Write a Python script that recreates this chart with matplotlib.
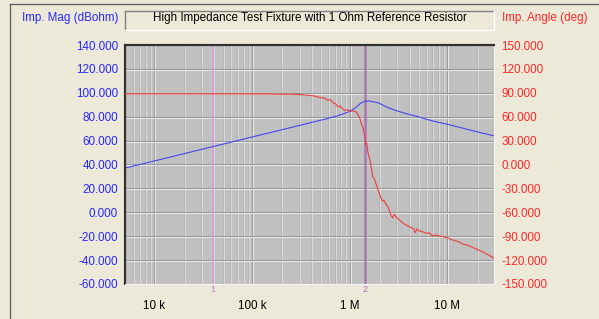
import matplotlib
matplotlib.use("Agg")
import matplotlib.pyplot as plt
from matplotlib.transforms import ScaledTranslation
from matplotlib.lines import Line2D
import numpy as np

plt.rcParams['font.family'] = ['Liberation Sans', 'DejaVu Sans']

# ---------------- data ----------------
title = "High Impedance Test Fixture with 1 Ohm Reference Resistor"
left_label = "Imp. Mag (dBohm)"
right_label = "Imp. Angle (deg)"

mag_freq = [5e3, 1e4, 2e4, 5e4, 1e5, 2e5, 5e5, 7e5, 8.5e5, 1.0e6, 1.15e6, 1.3e6,
            1.45e6, 1.6e6, 1.7e6, 1.75e6, 2.0e6, 2.4e6, 3e6, 4e6, 5e6, 7e6, 1e7,
            1.5e7, 2e7, 3e7]
mag_db = [37.0, 43.0, 49.0, 57.0, 63.0, 69.0, 77.0, 80.0, 82.2, 84.5, 87.5, 91.5,
          93.0, 93.2, 92.4, 92.6, 91.3, 88.0, 85.0, 82.0, 80.0, 76.5, 73.7,
          70.0, 67.4, 64.0]

ang_freq = [5e3, 2e4, 5e4, 1e5, 1.5e5, 2e5, 2.5e5, 3e5, 3.5e5, 4e5, 4.5e5, 5e5,
            5.5e5, 6e5, 6.3e5, 6.7e5, 7.2e5, 7.6e5, 8e5, 8.5e5, 9e5, 9.5e5,
            1.0e6, 1.1e6, 1.18e6, 1.22e6, 1.26e6, 1.31e6, 1.36e6, 1.4e6, 1.43e6,
            1.46e6, 1.49e6, 1.53e6, 1.57e6, 1.62e6, 1.67e6, 1.72e6, 1.8e6, 1.9e6,
            2.0e6, 2.07e6, 2.18e6, 2.25e6, 2.35e6, 2.45e6, 2.55e6, 2.65e6, 2.75e6,
            2.85e6, 2.95e6, 3.1e6, 3.3e6, 3.5e6, 3.8e6, 4.2e6, 4.5e6, 4.7e6,
            4.85e6, 5.2e6, 5.6e6, 6.1e6, 6.5e6, 7.0e6, 7.5e6, 8.5e6, 1.0e7,
            1.15e7, 1.3e7, 1.45e7, 1.6e7, 1.8e7, 2.1e7, 2.5e7, 3.0e7]
ang_deg = [88.6, 88.6, 88.6, 88.5, 88.5, 88.2, 88.4, 87.9, 87.3, 86.5, 85.6, 84.0,
           83.2, 80.5, 81.5, 77.8, 76.0, 72.0, 73.5, 69.3, 68.0, 69.0,
           67.0, 67.2, 65.5, 62.0, 59.0, 52.0, 46.6, 40.0, 33.0,
           25.0, 27.0, 16.0, 10.5, 4.0, -6.0, -14.7, -19.0, -28.0,
           -36.0, -41.0, -46.0, -45.0, -50.0, -52.6, -58.0, -64.0, -67.0,
           -62.5, -65.0, -68.0, -70.5, -73.5, -76.0, -79.0, -80.5, -85.5,
           -81.0, -83.5, -84.5, -86.5, -85.5, -89.5, -88.5, -90.0, -92.0,
           -95.0, -97.0, -100.0, -101.0, -104.0, -107.5, -112.0, -117.5]

x_range = [5e3, 3e7]
x_ticks = [1e4, 1e5, 1e6, 1e7]
x_tick_labels = ["10 k", "100 k", "1 M", "10 M"]
left_ticks = [-60, -40, -20, 0, 20, 40, 60, 80, 100, 120, 140]
right_ticks = [-150, -120, -90, -60, -30, 0, 30, 60, 90, 120, 150]
marker_freqs = [40e3, 1.45e6]
marker_labels = ["1", "2"]

# ---------------- style ----------------
BG = "#ECE9D8"
PLOT_BG = "#C0C0C0"
BLUE_TXT = "#2828FF"
RED_TXT = "#FF2828"
BLUE_LINE = "#4646F0"
RED_LINE = "#EE3C3C"
FS = 8.4

W, H = 599, 319
fig = plt.figure(figsize=(W / 100, H / 100), dpi=100)
fig.patch.set_facecolor(BG)

L, R, T, B = 125, 494, 45, 284
ax = fig.add_axes([L / W, 1 - B / H, (R - L) / W, (B - T) / H])
ax.set_facecolor(PLOT_BG)
ax.set_xscale('log')
ax.set_xlim(*x_range)
ax.set_ylim(left_ticks[0], left_ticks[-1])

px = 1 / 100.0
off_x = ScaledTranslation(px, 0, fig.dpi_scale_trans)
off_y = ScaledTranslation(0, -px, fig.dpi_scale_trans)

# vertical grid: every 1..9 multiple of each decade
for dec in [1e3, 1e4, 1e5, 1e6, 1e7]:
    for m in range(1, 10):
        f = dec * m
        if f <= x_range[0] or f >= x_range[1]:
            continue
        major = (m == 1)
        dark = "#9c9c9c" if major else "#b6b6b6"
        light = "#e8e8e8" if major else "#d8d8d8"
        ax.plot([f, f], [0, 1], color=dark, lw=0.72, zorder=1,
                transform=ax.get_xaxis_transform())
        ax.plot([f, f], [0, 1], color=light, lw=0.72, zorder=1,
                transform=ax.get_xaxis_transform() + off_x)

# horizontal grid
for v in left_ticks[1:-1]:
    ax.plot([0, 1], [v, v], color="#969696", lw=0.72, zorder=1,
            transform=ax.get_yaxis_transform())
    ax.plot([0, 1], [v, v], color="#e8e8e8", lw=0.72, zorder=1,
            transform=ax.get_yaxis_transform() + off_y)

# markers
marker_colors = ["#DE9CDE", "#A878B0"]
marker_txt_colors = ["#C080C0", "#A868B0"]
marker_lw = [1.2, 1.8]
for f, lab, c, tc, lw in zip(marker_freqs, marker_labels, marker_colors,
                             marker_txt_colors, marker_lw):
    ax.axvline(f, color=c, lw=lw, zorder=2)
    ax.annotate(lab, xy=(f, 0), xycoords=('data', 'axes fraction'),
                xytext=(0, -4.3), textcoords='offset points',
                ha='center', va='center', fontsize=6.5, color=tc,
                annotation_clip=False)

ax.plot(mag_freq, mag_db, color=BLUE_LINE, lw=0.8, zorder=4)

ax.set_yticks(left_ticks)
ax.set_yticklabels([f"{v:.3f}" for v in left_ticks])
ax.set_xticks(x_ticks)
ax.set_xticklabels(x_tick_labels)
ax.xaxis.set_minor_locator(matplotlib.ticker.NullLocator())
ax.tick_params(axis='y', length=0, pad=5, labelsize=FS, labelcolor=BLUE_TXT)
ax.tick_params(axis='x', length=0, pad=11.3, labelsize=FS, labelcolor='black')

ax2 = ax.twinx()
ax2.set_ylim(right_ticks[0], right_ticks[-1])
ax2.plot(ang_freq, ang_deg, color=RED_LINE, lw=0.8, zorder=3)
ax2.set_yticks(right_ticks)
ax2.set_yticklabels([f"{v:.3f}" for v in right_ticks])
ax2.tick_params(axis='y', length=0, pad=5.5, labelsize=FS, labelcolor=RED_TXT)
ax2.set_xlim(*x_range)

for a in (ax, ax2):
    a.spines['left'].set_color('#303030')
    a.spines['left'].set_linewidth(1.5)
    a.spines['top'].set_color('#303030')
    a.spines['top'].set_linewidth(1.5)
    a.spines['right'].set_color('#f4f4f4')
    a.spines['right'].set_linewidth(0.8)
    a.spines['bottom'].set_color('#f4f4f4')
    a.spines['bottom'].set_linewidth(0.8)

# outer panel lines (left and top)
def fx(x):
    return x / W

def fy(y):
    return 1 - y / H

fig.add_artist(Line2D([fx(9.5), fx(9.5)], [fy(4), fy(H)], color="#5a5a5a", lw=0.9))
fig.add_artist(Line2D([fx(9.5), fx(W)], [fy(4), fy(4)], color="#5a5a5a", lw=0.9))

# title box with sunken border
bx0, bx1, by0, by1 = 125, 494, 10.5, 29.5
fig.add_artist(Line2D([fx(bx0), fx(bx1)], [fy(by0), fy(by0)], color="#808080", lw=1.0))
fig.add_artist(Line2D([fx(bx0), fx(bx0)], [fy(by0), fy(by1)], color="#808080", lw=1.0))
fig.add_artist(Line2D([fx(bx0), fx(bx1)], [fy(by1), fy(by1)], color="#ffffff", lw=1.0))
fig.add_artist(Line2D([fx(bx1), fx(bx1)], [fy(by0), fy(by1)], color="#ffffff", lw=1.0))
fig.text(fx((bx0 + bx1) / 2), fy(18.5), title, ha='center', va='center',
         fontsize=FS, color='black')

fig.text(fx(118), fy(18.5), left_label, ha='right', va='center', fontsize=FS,
         color=BLUE_TXT)
fig.text(fx(502), fy(18.5), right_label, ha='left', va='center', fontsize=FS,
         color=RED_TXT)

fig.savefig("out.png", dpi=100, facecolor=BG)
